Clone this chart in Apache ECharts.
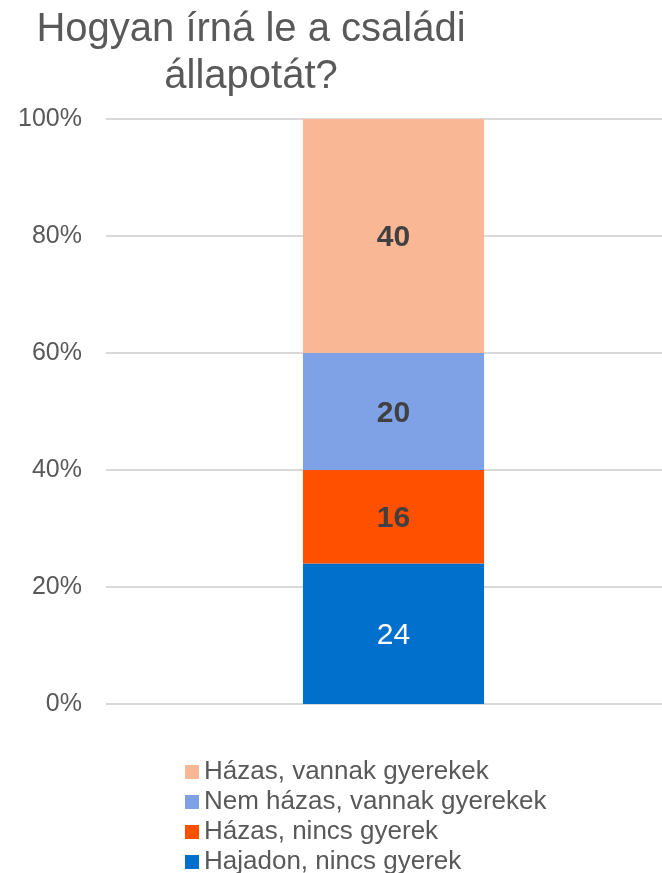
<!DOCTYPE html>
<html><head><meta charset="utf-8">
<script src="https://cdn.jsdelivr.net/npm/echarts@6/dist/echarts.min.js"></script>
<style>html,body{margin:0;padding:0;background:#fff}#c{width:662px;height:873px}</style>
</head><body><div id="c"></div>
<script>
const categories = [''];
const seriesNames = ['Hajadon, nincs gyerek', 'Házas, nincs gyerek', 'Nem házas, vannak gyerekek', 'Házas, vannak gyerekek'];
const seriesValues = [[24], [16], [20], [40]];
const seriesColors = ['#0070CC', '#FF5000', '#7FA1E5', '#FAB795'];
const legendOrder = ['Házas, vannak gyerekek', 'Nem házas, vannak gyerekek', 'Házas, nincs gyerek', 'Hajadon, nincs gyerek'];
const yTicks = [0, 20, 40, 60, 80, 100];

const font = 'Liberation Sans, Arial, sans-serif';
const chart = echarts.init(document.getElementById('c'));
chart.setOption({
  animation: false,
  textStyle: {fontFamily: font},
  title: {
    text: 'Hogyan írná le a családi\nállapotát?',
    left: 246, top: 1, textAlign: 'center',
    textStyle: {fontFamily: font, fontSize: 40, fontWeight: 'normal', color: '#595959', lineHeight: 47}
  },
  legend: {
    orient: 'vertical', left: 180, top: 754, height: 200,
    data: legendOrder,
    itemWidth: 14, itemHeight: 14, itemGap: 4,
    icon: 'rect',
    textStyle: {fontFamily: font, fontSize: 26, color: '#595959', lineHeight: 26}
  },
  grid: {left: 106, top: 119, right: -19, bottom: 169, containLabel: false, outerBoundsMode: 'none'},
  xAxis: {
    type: 'category', data: categories,
    axisLine: {show: false}, axisTick: {show: false}, axisLabel: {show: false}
  },
  yAxis: {
    type: 'value', min: yTicks[0], max: yTicks[yTicks.length-1], interval: 20,
    axisLine: {show: false}, axisTick: {show: false},
    axisLabel: {formatter: '{value}%', fontFamily: font, fontSize: 25, color: '#595959', margin: 24},
    splitLine: {lineStyle: {color: '#D9D9D9', width: 2}}
  },
  series: seriesNames.map((n, i) => ({
    name: n, type: 'bar', stack: 'total', data: seriesValues[i],
    barWidth: '31.5%',
    itemStyle: {color: seriesColors[i]},
    label: {
      show: true, position: 'inside', fontFamily: font, fontSize: 30, offset: [0, 2],
      color: i === 0 ? '#FFFFFF' : '#404040',
      fontWeight: i === 0 ? 'normal' : 'bold'
    }
  }))
});
</script></body></html>
